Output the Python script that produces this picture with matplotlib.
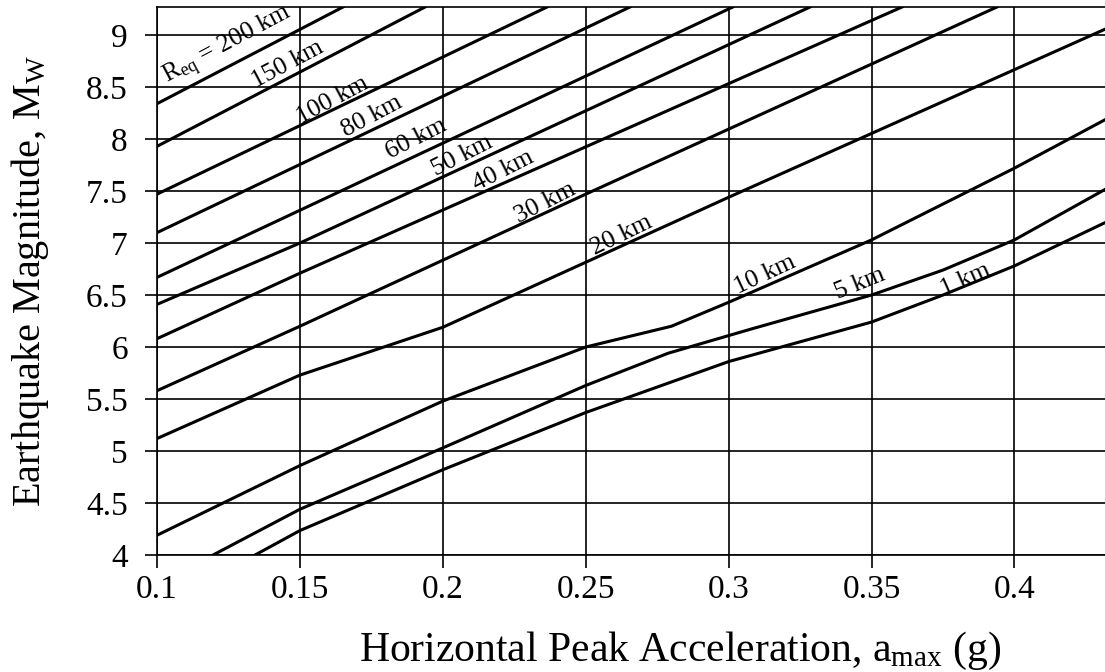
import matplotlib
matplotlib.use('Agg')
import matplotlib.pyplot as plt

plt.rcParams['font.family'] = 'Liberation Serif'
plt.rcParams['mathtext.fontset'] = 'custom'
plt.rcParams['mathtext.rm'] = 'Liberation Serif'
plt.rcParams['mathtext.it'] = 'Liberation Serif:italic'

# magnitude vs peak acceleration, one curve per equivalent distance
r200_x = [0.100, 0.1651]
r200_y = [8.34, 9.27]
r150_x = [0.100, 0.1938]
r150_y = [7.93, 9.27]
r100_x = [0.100, 0.2365]
r100_y = [7.47, 9.27]
r80_x = [0.100, 0.2655]
r80_y = [7.10, 9.27]
r60_x = [0.100, 0.3015]
r60_y = [6.67, 9.27]
r50_x = [0.100, 0.150, 0.3285]
r50_y = [6.41, 7.00, 9.27]
r40_x = [0.100, 0.150, 0.3607]
r40_y = [6.08, 6.71, 9.27]
r30_x = [0.100, 0.150, 0.250, 0.3939]
r30_y = [5.58, 6.20, 7.47, 9.27]
r20_x = [0.100, 0.150, 0.200, 0.300, 0.432]
r20_y = [5.12, 5.73, 6.19, 7.44, 9.06]
r10_x = [0.100, 0.150, 0.200, 0.250, 0.280, 0.300, 0.350, 0.400, 0.432]
r10_y = [4.19, 4.86, 5.48, 6.00, 6.20, 6.43, 7.03, 7.72, 8.19]
r5_x = [0.1196, 0.150, 0.200, 0.250, 0.2788, 0.3075, 0.350, 0.375, 0.400, 0.432]
r5_y = [4.00, 4.44, 5.03, 5.63, 5.94, 6.17, 6.50, 6.74, 7.03, 7.52]
r1_x = [0.1343, 0.150, 0.200, 0.250, 0.300, 0.350, 0.375, 0.400, 0.432]
r1_y = [4.00, 4.235, 4.82, 5.37, 5.86, 6.24, 6.50, 6.78, 7.20]

curves = [(r200_x, r200_y), (r150_x, r150_y), (r100_x, r100_y), (r80_x, r80_y),
          (r60_x, r60_y), (r50_x, r50_y), (r40_x, r40_y), (r30_x, r30_y),
          (r20_x, r20_y), (r10_x, r10_y), (r5_x, r5_y), (r1_x, r1_y)]

labels = [r'R$_{\mathrm{eq}}$ = 200 km', '150 km', '100 km', '80 km', '60 km',
          '50 km', '40 km', '30 km', '20 km', '10 km', '5 km', '1 km']
# where each distance label sits and how it is tilted
label_pos = [(0.1248, 8.90, 28), (0.1458, 8.72, 28), (0.1616, 8.37, 28),
             (0.1752, 8.22, 28), (0.1906, 8.00, 27), (0.2067, 7.84, 27),
             (0.2211, 7.69, 27), (0.2358, 7.39, 27), (0.2624, 7.07, 26),
             (0.3127, 6.69, 25), (0.3460, 6.61, 22), (0.3830, 6.65, 24)]

xticks = [0.1, 0.15, 0.2, 0.25, 0.3, 0.35, 0.4]
xticklabels = ['0.1', '0.15', '0.2', '0.25', '0.3', '0.35', '0.4']
yticks = [4, 4.5, 5, 5.5, 6, 6.5, 7, 7.5, 8, 8.5, 9]
yticklabels = ['4', '4.5', '5', '5.5', '6', '6.5', '7', '7.5', '8', '8.5', '9']

fig = plt.figure(figsize=(11.05, 6.72), dpi=100)
ax = fig.add_axes([0.1421, 0.1741, 0.8579, 0.8155])

for cx, cy in curves:
    ax.plot(cx, cy, color='black', lw=2.2, solid_joinstyle='miter')

for text, (lx, ly, rot) in zip(labels, label_pos):
    ax.text(lx, ly, text, fontsize=18.5, rotation=rot, ha='center', va='center',
            rotation_mode='anchor')

ax.set_xlim(0.1, 0.4317)
ax.set_ylim(4, 9.27)
ax.set_xticks(xticks)
ax.set_xticklabels(xticklabels)
ax.set_yticks(yticks)
ax.set_yticklabels(yticklabels)
ax.grid(True, color='black', lw=1.2)
ax.tick_params(axis='both', direction='out', length=9, width=1.2, labelsize=24)
ax.tick_params(axis='y', pad=12)
ax.tick_params(axis='x', pad=5)
for side in ['left', 'top', 'bottom']:
    ax.spines[side].set_linewidth(1.2)
ax.spines['right'].set_visible(False)

ax.set_xlabel(r'Horizontal Peak Acceleration, a$_{\mathrm{max}}$ (g)', fontsize=30,
              va='baseline')
ax.xaxis.set_label_coords(0.552, -0.193)
ax.set_ylabel(r'Earthquake Magnitude, M$_{\mathrm{W}}$', fontsize=29)
ax.yaxis.set_label_coords(-0.112, 0.5)

fig.savefig('out.png', dpi=100)
